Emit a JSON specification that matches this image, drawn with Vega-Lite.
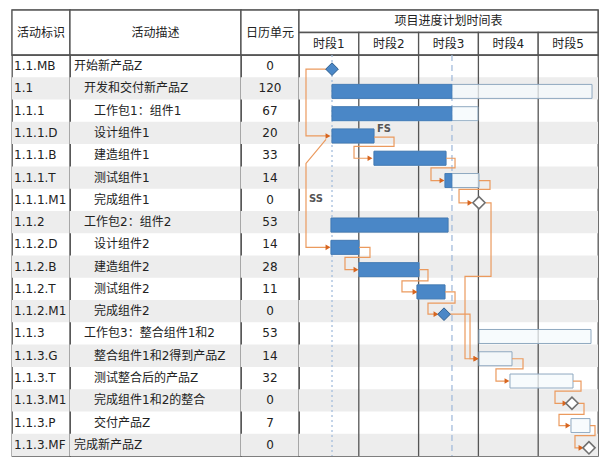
{
  "$schema": "https://vega.github.io/schema/vega-lite/v6.json",
  "background": "white",
  "padding": {"left": 10, "top": 8, "right": 0, "bottom": 0},
  "config": {
    "view": {"stroke": "#555", "strokeWidth": 1.3},
    "concat": {"spacing": 0},
    "scale": {"continuousPadding": 0},
    "font": "DejaVu Sans, Noto Sans CJK SC",
    "text": {"font": "DejaVu Sans, Noto Sans CJK SC", "fontSize": 12, "color": "#333"}
  },
  "datasets": {
    "acts": [
      {"order": 1, "id": "1.1.MB", "desc": "开始新产品Z", "level": 0, "days": 0, "kind": "milestone", "start": 0.552, "end": 0.552, "done": 0.552},
      {"order": 2, "id": "1.1", "desc": "开发和交付新产品Z", "level": 1, "days": 120, "kind": "summary", "start": 0.552, "end": 4.9, "done": 2.558},
      {"order": 3, "id": "1.1.1", "desc": "工作包1：组件1", "level": 2, "days": 67, "kind": "summary", "start": 0.552, "end": 2.993, "done": 2.558},
      {"order": 4, "id": "1.1.1.D", "desc": "设计组件1", "level": 2, "days": 20, "kind": "task", "start": 0.552, "end": 1.254, "done": 1.254},
      {"order": 5, "id": "1.1.1.B", "desc": "建造组件1", "level": 2, "days": 33, "kind": "task", "start": 1.254, "end": 2.458, "done": 2.458},
      {"order": 6, "id": "1.1.1.T", "desc": "测试组件1", "level": 2, "days": 14, "kind": "task", "start": 2.441, "end": 3.01, "done": 2.558},
      {"order": 7, "id": "1.1.1.M1", "desc": "完成组件1", "level": 2, "days": 0, "kind": "milestone", "start": 3.01, "end": 3.01, "done": null},
      {"order": 8, "id": "1.1.2", "desc": "工作包2：组件2", "level": 1, "days": 53, "kind": "summary", "start": 0.535, "end": 2.492, "done": 2.492},
      {"order": 9, "id": "1.1.2.D", "desc": "设计组件2", "level": 2, "days": 14, "kind": "task", "start": 0.535, "end": 1.003, "done": 1.003},
      {"order": 10, "id": "1.1.2.B", "desc": "建造组件2", "level": 2, "days": 28, "kind": "task", "start": 1.003, "end": 2.007, "done": 2.007},
      {"order": 11, "id": "1.1.2.T", "desc": "测试组件2", "level": 2, "days": 11, "kind": "task", "start": 1.973, "end": 2.441, "done": 2.441},
      {"order": 12, "id": "1.1.2.M1", "desc": "完成组件2", "level": 2, "days": 0, "kind": "milestone", "start": 2.425, "end": 2.425, "done": 2.425},
      {"order": 13, "id": "1.1.3", "desc": "工作包3：整合组件1和2", "level": 1, "days": 53, "kind": "summary", "start": 3.01, "end": 4.883, "done": null},
      {"order": 14, "id": "1.1.3.G", "desc": "整合组件1和2得到产品Z", "level": 2, "days": 14, "kind": "task", "start": 3.01, "end": 3.562, "done": null},
      {"order": 15, "id": "1.1.3.T", "desc": "测试整合后的产品Z", "level": 2, "days": 32, "kind": "task", "start": 3.528, "end": 4.582, "done": null},
      {"order": 16, "id": "1.1.3.M1", "desc": "完成组件1和2的整合", "level": 2, "days": 0, "kind": "milestone", "start": 4.565, "end": 4.565, "done": null},
      {"order": 17, "id": "1.1.3.P", "desc": "交付产品Z", "level": 2, "days": 7, "kind": "task", "start": 4.548, "end": 4.866, "done": null},
      {"order": 18, "id": "1.1.3.MF", "desc": "完成新产品Z", "level": 0, "days": 0, "kind": "milestone", "start": 4.849, "end": 4.849, "done": null}
    ],
    "periods": [
      {"p": "时段1", "s": 0, "e": 1},
      {"p": "时段2", "s": 1, "e": 2},
      {"p": "时段3", "s": 2, "e": 3},
      {"p": "时段4", "s": 3, "e": 4},
      {"p": "时段5", "s": 4, "e": 5}
    ],
    "dates": [
      {"name": "start", "t": 0.552},
      {"name": "status", "t": 2.558}
    ],
    "labels": [
      {"label": "FS", "t": 1.421, "r": 3.84},
      {"label": "SS", "t": 0.284, "r": 6.98}
    ],
    "links": [
      {"link": "L1", "seq": 1, "t": 0.468, "r": 1}, {"link": "L1", "seq": 2, "t": 0.117, "r": 1}, {"link": "L1", "seq": 3, "t": 0.117, "r": 4}, {"link": "L1", "seq": 4, "t": 0.485, "r": 4},
      {"link": "L2", "seq": 1, "t": 0.452, "r": 4.15}, {"link": "L2", "seq": 2, "t": 0.117, "r": 5.23}, {"link": "L2", "seq": 3, "t": 0.117, "r": 9}, {"link": "L2", "seq": 4, "t": 0.485, "r": 9},
      {"link": "L3", "seq": 1, "t": 1.254, "r": 4.05}, {"link": "L3", "seq": 2, "t": 1.589, "r": 4.05}, {"link": "L3", "seq": 3, "t": 1.589, "r": 4.47}, {"link": "L3", "seq": 4, "t": 0.92, "r": 4.47}, {"link": "L3", "seq": 5, "t": 0.92, "r": 5}, {"link": "L3", "seq": 6, "t": 1.187, "r": 5},
      {"link": "L4", "seq": 1, "t": 2.458, "r": 5}, {"link": "L4", "seq": 2, "t": 2.609, "r": 5}, {"link": "L4", "seq": 3, "t": 2.609, "r": 5.43}, {"link": "L4", "seq": 4, "t": 2.207, "r": 5.43}, {"link": "L4", "seq": 5, "t": 2.207, "r": 6}, {"link": "L4", "seq": 6, "t": 2.391, "r": 6},
      {"link": "L5", "seq": 1, "t": 3.01, "r": 6}, {"link": "L5", "seq": 2, "t": 3.194, "r": 6}, {"link": "L5", "seq": 3, "t": 3.194, "r": 6.4}, {"link": "L5", "seq": 4, "t": 2.676, "r": 6.4}, {"link": "L5", "seq": 5, "t": 2.676, "r": 7}, {"link": "L5", "seq": 6, "t": 2.86, "r": 7},
      {"link": "L6", "seq": 1, "t": 3.127, "r": 7}, {"link": "L6", "seq": 2, "t": 3.211, "r": 7}, {"link": "L6", "seq": 3, "t": 3.211, "r": 10.3}, {"link": "L6", "seq": 4, "t": 2.776, "r": 10.3}, {"link": "L6", "seq": 5, "t": 2.776, "r": 14}, {"link": "L6", "seq": 6, "t": 2.96, "r": 14},
      {"link": "L7", "seq": 1, "t": 2.525, "r": 12}, {"link": "L7", "seq": 2, "t": 2.86, "r": 12}, {"link": "L7", "seq": 3, "t": 2.86, "r": 14}, {"link": "L7", "seq": 4, "t": 2.96, "r": 14},
      {"link": "L8", "seq": 1, "t": 1.003, "r": 9}, {"link": "L8", "seq": 2, "t": 1.187, "r": 9}, {"link": "L8", "seq": 3, "t": 1.187, "r": 9.45}, {"link": "L8", "seq": 4, "t": 0.769, "r": 9.45}, {"link": "L8", "seq": 5, "t": 0.769, "r": 10}, {"link": "L8", "seq": 6, "t": 0.953, "r": 10},
      {"link": "L9", "seq": 1, "t": 2.007, "r": 10}, {"link": "L9", "seq": 2, "t": 2.157, "r": 10}, {"link": "L9", "seq": 3, "t": 2.157, "r": 10.5}, {"link": "L9", "seq": 4, "t": 1.722, "r": 10.5}, {"link": "L9", "seq": 5, "t": 1.722, "r": 11}, {"link": "L9", "seq": 6, "t": 1.94, "r": 11},
      {"link": "L10", "seq": 1, "t": 2.441, "r": 11}, {"link": "L10", "seq": 2, "t": 2.609, "r": 11}, {"link": "L10", "seq": 3, "t": 2.609, "r": 11.5}, {"link": "L10", "seq": 4, "t": 2.157, "r": 11.5}, {"link": "L10", "seq": 5, "t": 2.157, "r": 12}, {"link": "L10", "seq": 6, "t": 2.291, "r": 12},
      {"link": "L11", "seq": 1, "t": 3.562, "r": 14}, {"link": "L11", "seq": 2, "t": 3.746, "r": 14}, {"link": "L11", "seq": 3, "t": 3.746, "r": 14.45}, {"link": "L11", "seq": 4, "t": 3.294, "r": 14.45}, {"link": "L11", "seq": 5, "t": 3.294, "r": 15}, {"link": "L11", "seq": 6, "t": 3.478, "r": 15},
      {"link": "L12", "seq": 1, "t": 4.582, "r": 15}, {"link": "L12", "seq": 2, "t": 4.716, "r": 15}, {"link": "L12", "seq": 3, "t": 4.716, "r": 15.45}, {"link": "L12", "seq": 4, "t": 4.281, "r": 15.45}, {"link": "L12", "seq": 5, "t": 4.281, "r": 16}, {"link": "L12", "seq": 6, "t": 4.448, "r": 16},
      {"link": "L13", "seq": 1, "t": 4.649, "r": 16}, {"link": "L13", "seq": 2, "t": 4.766, "r": 16}, {"link": "L13", "seq": 3, "t": 4.766, "r": 16.5}, {"link": "L13", "seq": 4, "t": 4.348, "r": 16.5}, {"link": "L13", "seq": 5, "t": 4.348, "r": 17}, {"link": "L13", "seq": 6, "t": 4.498, "r": 17},
      {"link": "L14", "seq": 1, "t": 4.866, "r": 17}, {"link": "L14", "seq": 2, "t": 4.95, "r": 17}, {"link": "L14", "seq": 3, "t": 4.95, "r": 17.45}, {"link": "L14", "seq": 4, "t": 4.615, "r": 17.45}, {"link": "L14", "seq": 5, "t": 4.615, "r": 18}, {"link": "L14", "seq": 6, "t": 4.716, "r": 18}
    ]
  },
  "columns": 4,
  "spacing": 0,
  "bounds": "flush",
  "align": "each",
  "concat": [
    {"width": 58, "height": 45, "data": {"values": [{"h": "活动标识"}]},
     "layer": [
       {"mark": {"type": "rect", "fill": "white", "stroke": "#555", "strokeWidth": 1.3},
        "encoding": {"x": {"datum": 0, "type": "quantitative", "axis": null, "scale": {"domain": [0, 1]}}, "x2": {"datum": 1}, "y": {"datum": 0, "type": "quantitative", "axis": null, "scale": {"domain": [0, 1]}}, "y2": {"datum": 1}}},
       {"mark": {"type": "text", "color": "#222"}, "encoding": {"text": {"field": "h"}}}
     ]},
    {"width": 171, "height": 45, "data": {"values": [{"h": "活动描述"}]},
     "layer": [
       {"mark": {"type": "rect", "fill": "white", "stroke": "#555", "strokeWidth": 1.3},
        "encoding": {"x": {"datum": 0, "type": "quantitative", "axis": null, "scale": {"domain": [0, 1]}}, "x2": {"datum": 1}, "y": {"datum": 0, "type": "quantitative", "axis": null, "scale": {"domain": [0, 1]}}, "y2": {"datum": 1}}},
       {"mark": {"type": "text", "color": "#222"}, "encoding": {"text": {"field": "h"}}}
     ]},
    {"width": 58, "height": 45, "data": {"values": [{"h": "日历单元"}]},
     "layer": [
       {"mark": {"type": "rect", "fill": "white", "stroke": "#555", "strokeWidth": 1.3},
        "encoding": {"x": {"datum": 0, "type": "quantitative", "axis": null, "scale": {"domain": [0, 1]}}, "x2": {"datum": 1}, "y": {"datum": 0, "type": "quantitative", "axis": null, "scale": {"domain": [0, 1]}}, "y2": {"datum": 1}}},
       {"mark": {"type": "text", "color": "#222"}, "encoding": {"text": {"field": "h"}}}
     ]},
    {"width": 299, "height": 45,
     "resolve": {"scale": {"x": "independent"}},
     "layer": [
       {"data": {"values": [{"h": "项目进度计划时间表"}]},
        "layer": [
          {"mark": {"type": "rect", "fill": "white", "stroke": "#555", "strokeWidth": 1.3},
           "encoding": {"x": {"datum": 0, "type": "quantitative", "axis": null, "scale": {"domain": [0, 1]}}, "x2": {"datum": 1}, "y": {"datum": 0, "type": "quantitative", "axis": null, "scale": {"domain": [0, 2], "reverse": true, "nice": false, "padding": 0}}, "y2": {"datum": 1}}},
          {"mark": {"type": "text", "color": "#222"},
           "encoding": {"y": {"datum": 0.5, "type": "quantitative", "axis": null, "scale": {"domain": [0, 2], "reverse": true, "nice": false, "padding": 0}}, "text": {"field": "h"}}}
        ]},
       {"data": {"name": "periods"},
        "layer": [
          {"mark": {"type": "rect", "fill": "white", "stroke": "#555", "strokeWidth": 1.3},
           "encoding": {"x": {"field": "p", "type": "nominal", "sort": null, "axis": null, "scale": {"paddingInner": 0, "paddingOuter": 0}},
                        "y": {"datum": 1, "type": "quantitative", "axis": null, "scale": {"domain": [0, 2], "reverse": true, "nice": false, "padding": 0}}, "y2": {"datum": 2}}},
          {"mark": {"type": "text", "color": "#222"},
           "encoding": {"x": {"field": "p", "type": "nominal", "sort": null, "axis": null, "scale": {"paddingInner": 0, "paddingOuter": 0}},
                        "y": {"datum": 1.5, "type": "quantitative", "axis": null, "scale": {"domain": [0, 2], "reverse": true, "nice": false, "padding": 0}},
                        "text": {"field": "p"}}}
        ]}
     ]},
    {
      "width": 58, "height": 401,
      "data": {"name": "acts"},
      "layer": [
        {"transform": [{"filter": "datum.order % 2 == 0"}],
         "mark": {"type": "bar", "color": "#ededed", "size": 22.3},
         "encoding": {
           "y": {"field": "order", "type": "quantitative", "axis": null, "scale": {"domain": [0.5, 18.5], "reverse": true, "nice": false, "zero": false, "padding": 0}},
           "x": {"datum": 0, "type": "quantitative", "axis": null, "scale": {"domain": [0, 1]}},
           "x2": {"datum": 1}
         }},
        {"mark": {"type": "text", "align": "left", "dx": -27, "color": "#222"},
         "encoding": {
           "y": {"field": "order", "type": "quantitative", "axis": null, "scale": {"domain": [0.5, 18.5], "reverse": true, "nice": false, "zero": false, "padding": 0}},
           "text": {"field": "id"}
         }}
      ]
    },
    {
      "width": 171, "height": 401,
      "data": {"name": "acts"},
      "layer": [
        {"transform": [{"filter": "datum.order % 2 == 0"}],
         "mark": {"type": "bar", "color": "#ededed", "size": 22.3},
         "encoding": {
           "y": {"field": "order", "type": "quantitative", "axis": null, "scale": {"domain": [0.5, 18.5], "reverse": true, "nice": false, "zero": false, "padding": 0}},
           "x": {"datum": -0.4, "type": "quantitative", "axis": null, "scale": {"domain": [-0.4, 16.7], "nice": false, "zero": false}},
           "x2": {"datum": 16.7}
         }},
        {"mark": {"type": "text", "align": "left", "color": "#222"},
         "encoding": {
           "y": {"field": "order", "type": "quantitative", "axis": null, "scale": {"domain": [0.5, 18.5], "reverse": true, "nice": false, "zero": false, "padding": 0}},
           "x": {"field": "level", "type": "quantitative", "axis": null, "scale": {"domain": [-0.4, 16.7], "nice": false, "zero": false}},
           "text": {"field": "desc"}
         }}
      ]
    },
    {
      "width": 58, "height": 401,
      "data": {"name": "acts"},
      "layer": [
        {"transform": [{"filter": "datum.order % 2 == 0"}],
         "mark": {"type": "bar", "color": "#ededed", "size": 22.3},
         "encoding": {
           "y": {"field": "order", "type": "quantitative", "axis": null, "scale": {"domain": [0.5, 18.5], "reverse": true, "nice": false, "zero": false, "padding": 0}},
           "x": {"datum": 0, "type": "quantitative", "axis": null, "scale": {"domain": [0, 1]}},
           "x2": {"datum": 1}
         }},
        {"mark": {"type": "text", "color": "#222"},
         "encoding": {
           "y": {"field": "order", "type": "quantitative", "axis": null, "scale": {"domain": [0.5, 18.5], "reverse": true, "nice": false, "zero": false, "padding": 0}},
           "text": {"field": "days"}
         }}
      ]
    },
    {
      "width": 299, "height": 401,
      "layer": [
        {"data": {"name": "acts"},
         "transform": [{"filter": "datum.order % 2 == 0"}],
         "mark": {"type": "bar", "color": "#ededed", "size": 22.3},
         "encoding": {
           "y": {"field": "order", "type": "quantitative", "axis": null, "scale": {"domain": [0.5, 18.5], "reverse": true, "nice": false, "zero": false, "padding": 0}},
           "x": {"datum": 0, "type": "quantitative", "axis": null, "scale": {"domain": [0, 5], "nice": false, "zero": false}},
           "x2": {"datum": 5}
         }},
        {"data": {"name": "dates"},
         "transform": [{"filter": "datum.name == 'start'"}],
         "mark": {"type": "rule", "color": "#a3bcdc", "strokeWidth": 1.3, "strokeDash": [2, 3]},
         "encoding": {"x": {"field": "t", "type": "quantitative", "axis": null, "scale": {"domain": [0, 5], "nice": false, "zero": false}}}},
        {"data": {"name": "dates"},
         "transform": [{"filter": "datum.name == 'status'"}],
         "mark": {"type": "rule", "color": "#a3bcdc", "strokeWidth": 1.3, "strokeDash": [6, 4]},
         "encoding": {"x": {"field": "t", "type": "quantitative", "axis": null, "scale": {"domain": [0, 5], "nice": false, "zero": false}}}},
        {"data": {"name": "periods"},
         "transform": [{"filter": "datum.e < 5"}],
         "mark": {"type": "rule", "color": "#555", "strokeWidth": 1.3},
         "encoding": {"x": {"field": "e", "type": "quantitative", "axis": null, "scale": {"domain": [0, 5], "nice": false, "zero": false}}}},
        {"data": {"name": "acts"},
         "transform": [{"filter": "datum.kind != 'milestone'"}],
         "mark": {"type": "bar", "size": 14, "yOffset": 3, "fill": "#f4f9fc", "fillOpacity": 0.75, "stroke": "#8fa9c0", "strokeWidth": 1},
         "encoding": {
           "y": {"field": "order", "type": "quantitative", "axis": null, "scale": {"domain": [0.5, 18.5], "reverse": true, "nice": false, "zero": false, "padding": 0}},
           "x": {"field": "start", "type": "quantitative", "axis": null, "scale": {"domain": [0, 5], "nice": false, "zero": false}},
           "x2": {"field": "end"}
         }},
        {"data": {"name": "acts"},
         "transform": [{"filter": "datum.kind != 'milestone' && isValid(datum.done)"}],
         "mark": {"type": "bar", "size": 14, "yOffset": 3, "fill": "#4a87c7", "stroke": "#3f78b5", "strokeWidth": 0.8},
         "encoding": {
           "y": {"field": "order", "type": "quantitative", "axis": null, "scale": {"domain": [0.5, 18.5], "reverse": true, "nice": false, "zero": false, "padding": 0}},
           "x": {"field": "start", "type": "quantitative", "axis": null, "scale": {"domain": [0, 5], "nice": false, "zero": false}},
           "x2": {"field": "done"}
         }},
        {"data": {"name": "links"},
         "mark": {"type": "line", "color": "#eb9a5e", "strokeWidth": 1.2, "yOffset": 3},
         "encoding": {
           "x": {"field": "t", "type": "quantitative", "axis": null, "scale": {"domain": [0, 5], "nice": false, "zero": false}},
           "y": {"field": "r", "type": "quantitative", "axis": null, "scale": {"domain": [0.5, 18.5], "reverse": true, "nice": false, "zero": false, "padding": 0}},
           "detail": {"field": "link"},
           "order": {"field": "seq"}
         }},
        {"data": {"name": "links"},
         "transform": [
           {"joinaggregate": [{"op": "max", "field": "seq", "as": "last"}], "groupby": ["link"]},
           {"filter": "datum.seq == datum.last"}
         ],
         "mark": {"type": "point", "shape": "triangle-right", "filled": true, "color": "#d7651f", "size": 32, "opacity": 1, "yOffset": 3},
         "encoding": {
           "x": {"field": "t", "type": "quantitative", "axis": null, "scale": {"domain": [0, 5], "nice": false, "zero": false}},
           "y": {"field": "r", "type": "quantitative", "axis": null, "scale": {"domain": [0.5, 18.5], "reverse": true, "nice": false, "zero": false, "padding": 0}}
         }},
        {"data": {"name": "acts"},
         "transform": [{"filter": "datum.kind == 'milestone' && isValid(datum.done)"}],
         "mark": {"type": "point", "shape": "diamond", "filled": true, "size": 160, "fill": "#4a87c7", "stroke": "#2f5f8e", "strokeWidth": 1, "opacity": 1, "yOffset": 3},
         "encoding": {
           "x": {"field": "start", "type": "quantitative", "axis": null, "scale": {"domain": [0, 5], "nice": false, "zero": false}},
           "y": {"field": "order", "type": "quantitative", "axis": null, "scale": {"domain": [0.5, 18.5], "reverse": true, "nice": false, "zero": false, "padding": 0}}
         }},
        {"data": {"name": "acts"},
         "transform": [{"filter": "datum.kind == 'milestone' && !isValid(datum.done)"}],
         "mark": {"type": "point", "shape": "diamond", "filled": true, "size": 150, "fill": "white", "stroke": "#707070", "strokeWidth": 1.6, "opacity": 1, "yOffset": 3},
         "encoding": {
           "x": {"field": "start", "type": "quantitative", "axis": null, "scale": {"domain": [0, 5], "nice": false, "zero": false}},
           "y": {"field": "order", "type": "quantitative", "axis": null, "scale": {"domain": [0.5, 18.5], "reverse": true, "nice": false, "zero": false, "padding": 0}}
         }},
        {"data": {"name": "labels"},
         "mark": {"type": "text", "font": "DejaVu Sans", "fontSize": 10, "fontWeight": "bold", "color": "#555"},
         "encoding": {
           "x": {"field": "t", "type": "quantitative", "axis": null, "scale": {"domain": [0, 5], "nice": false, "zero": false}},
           "y": {"field": "r", "type": "quantitative", "axis": null, "scale": {"domain": [0.5, 18.5], "reverse": true, "nice": false, "zero": false, "padding": 0}},
           "text": {"field": "label"}
         }}
      ]
    }
  ]
}
